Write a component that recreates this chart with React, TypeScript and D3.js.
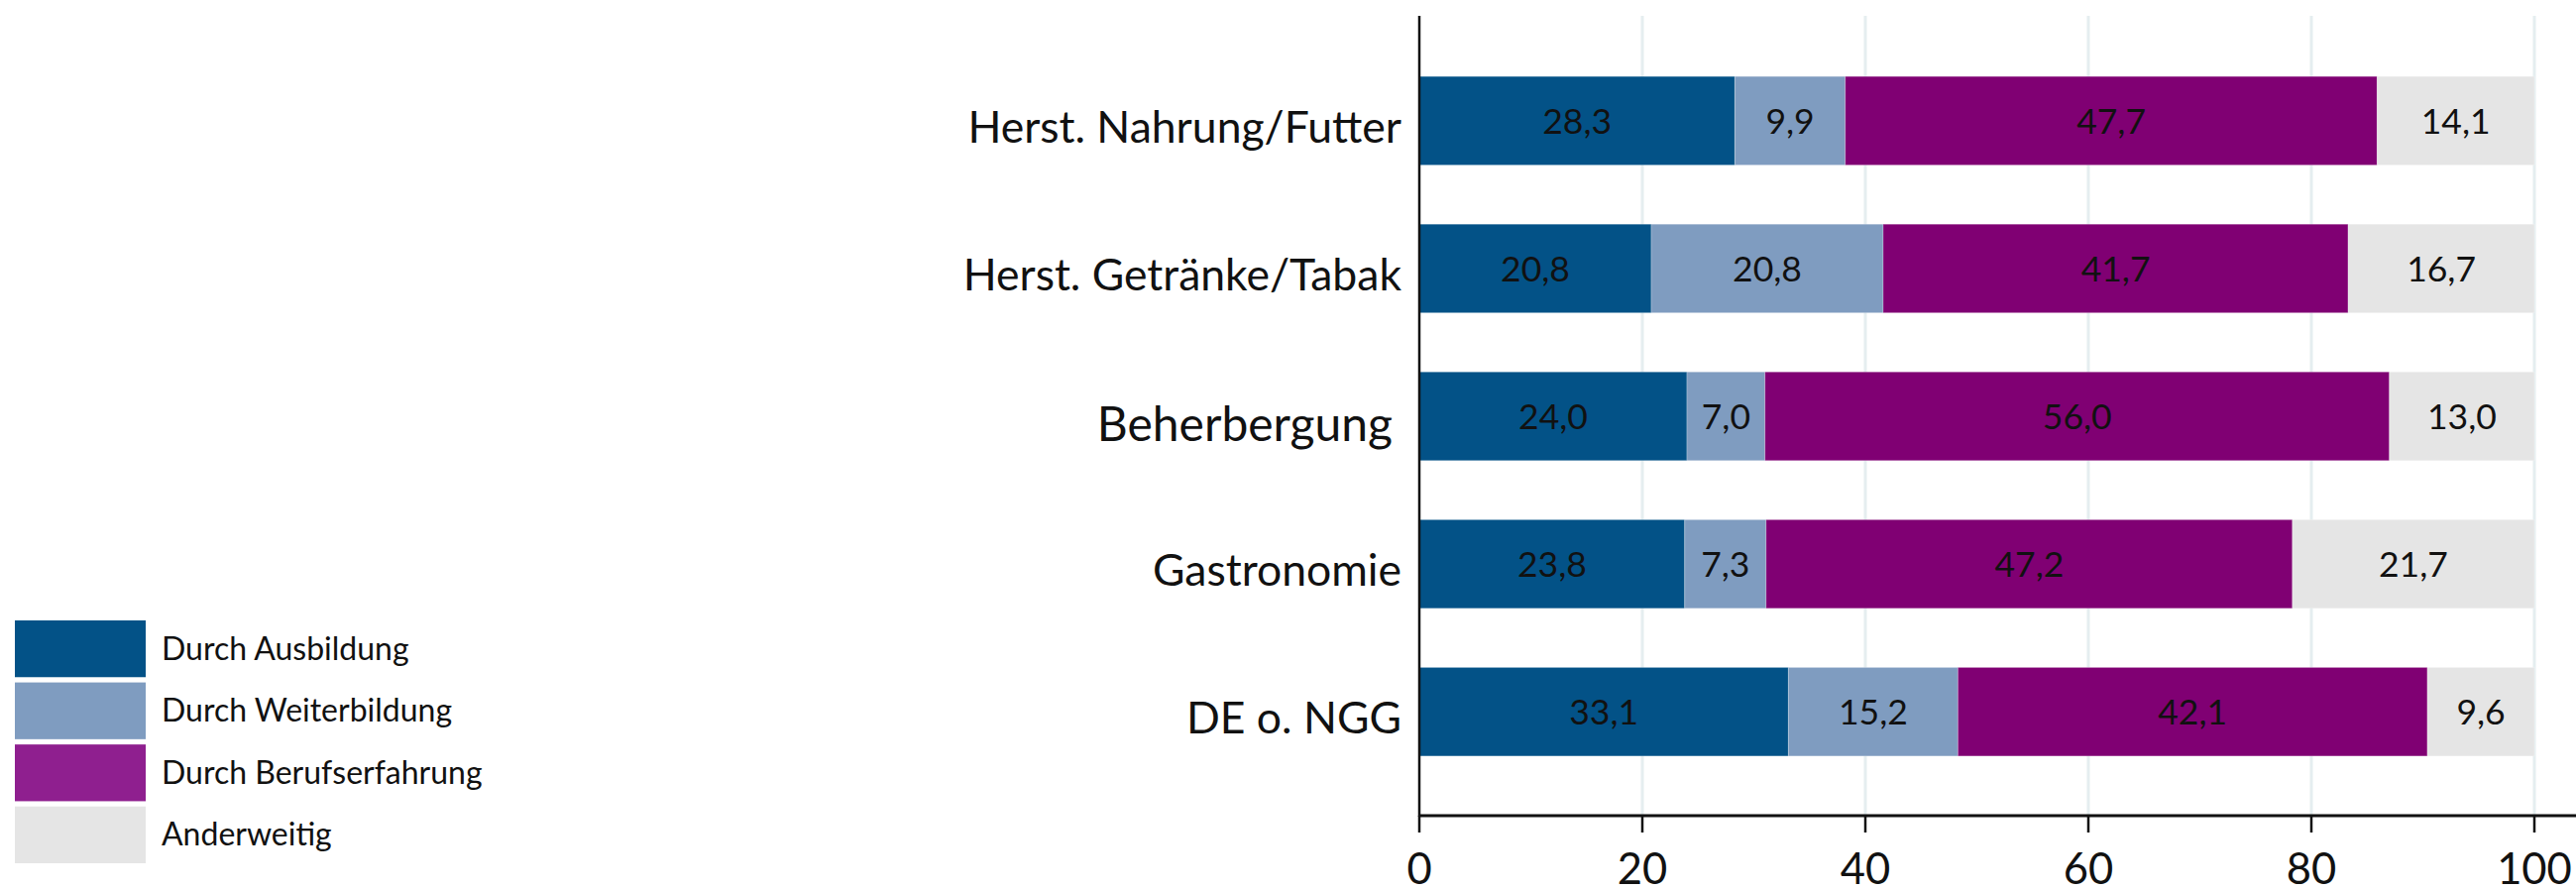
import React from "react";
import * as d3 from "d3";

const categories = [
  "Herst. Nahrung/Futter",
  "Herst. Getränke/Tabak",
  "Beherbergung",
  "Gastronomie",
  "DE o. NGG",
];
const seriesNames = [
  "Durch Ausbildung",
  "Durch Weiterbildung",
  "Durch Berufserfahrung",
  "Anderweitig",
];
const ausbildung = [28.3, 20.8, 24.0, 23.8, 33.1];
const weiterbildung = [9.9, 20.8, 7.0, 7.3, 15.2];
const berufserfahrung = [47.7, 41.7, 56.0, 47.2, 42.1];
const anderweitig = [14.1, 16.7, 13.0, 21.7, 9.6];
const xTicks = [0, 20, 40, 60, 80, 100];

const barColors = ["#035287", "#7f9cc0", "#800073", "#e5e5e5"];
const legendColors = ["#035287", "#7f9cc0", "#8f1f8f", "#e5e5e5"];

const W = 2599;
const H = 897;
const FONT = "Lato, 'Open Sans', sans-serif";

export default function App() {
  const x = d3.scaleLinear().domain([0, 100]).range([1432, 2557]);
  const y = d3
    .scaleBand<string>()
    .domain(categories)
    .range([16, 824])
    .paddingInner(0.4)
    .paddingOuter(0.41);
  const series = [ausbildung, weiterbildung, berufserfahrung, anderweitig];
  const rows = categories.map((c, i) => {
    const o: any = { cat: c };
    series.forEach((s, k) => (o[seriesNames[k]] = s[i]));
    return o;
  });
  const stacked = d3.stack<any>().keys(seriesNames)(rows);
  const fmt = (v: number) => d3.format(".1f")(v).replace(".", ",");
  const axisY = 823;
  const legendY = d3.scaleBand<string>().domain(seriesNames).range([626, 871]).paddingInner(0.085);

  return (
    <svg
      width={W}
      height={H}
      style={{ position: "absolute", left: 0, top: 0, background: "#fff" }}
      fontFamily={FONT}
    >
      {/* gridlines */}
      {xTicks.slice(1).map((t) => (
        <line key={"g" + t} x1={x(t)} x2={x(t)} y1={16} y2={axisY} stroke="#e5eef0" strokeWidth={3} />
      ))}
      {/* bars */}
      {stacked.map((layer, k) =>
        layer.map((d, i) => (
          <rect
            key={k + "-" + i}
            x={x(d[0])}
            width={x(d[1]) - x(d[0])}
            y={y(categories[i])!}
            height={y.bandwidth()}
            fill={barColors[k]}
            stroke="rgba(255,255,255,0.25)"
            strokeWidth={1}
          />
        ))
      )}
      {/* value labels */}
      {stacked.map((layer, k) =>
        layer.map((d, i) => (
          <text
            key={"v" + k + "-" + i}
            x={(x(d[0]) + x(d[1])) / 2}
            y={y(categories[i])! + y.bandwidth() / 2 + 13}
            textAnchor="middle"
            fontSize={35.5}
            fill="#111"
          >
            {fmt(series[k][i])}
          </text>
        ))
      )}
      {/* category labels */}
      {categories.map((c) => {
        const big = c === "Beherbergung";
        return (
          <text
            key={"c" + c}
            x={big ? 1405 : 1414}
            y={y(c)! + y.bandwidth() / 2 + (big ? 25 : 22)}
            textAnchor="end"
            fontSize={big ? 48 : 44.5}
            fill="#111"
          >
            {c}
          </text>
        );
      })}
      {/* axes */}
      <line x1={1432} x2={1432} y1={16} y2={axisY + 1} stroke="#111" strokeWidth={2.5} />
      <line x1={1431} x2={W} y1={axisY} y2={axisY} stroke="#111" strokeWidth={3} />
      {xTicks.map((t) => (
        <g key={"t" + t}>
          <line x1={x(t)} x2={x(t)} y1={axisY} y2={840} stroke="#111" strokeWidth={2.5} />
          <text x={x(t)} y={892} textAnchor="middle" fontSize={43.5} fill="#111">
            {t}
          </text>
        </g>
      ))}
      {/* legend */}
      {seriesNames.map((s, k) => (
        <g key={"l" + s}>
          <rect x={15} y={legendY(s)!} width={132} height={legendY.bandwidth()} fill={legendColors[k]} />
          <text x={163} y={legendY(s)! + legendY.bandwidth() / 2 + 11} fontSize={32} fill="#111">
            {s}
          </text>
        </g>
      ))}
    </svg>
  );
}
